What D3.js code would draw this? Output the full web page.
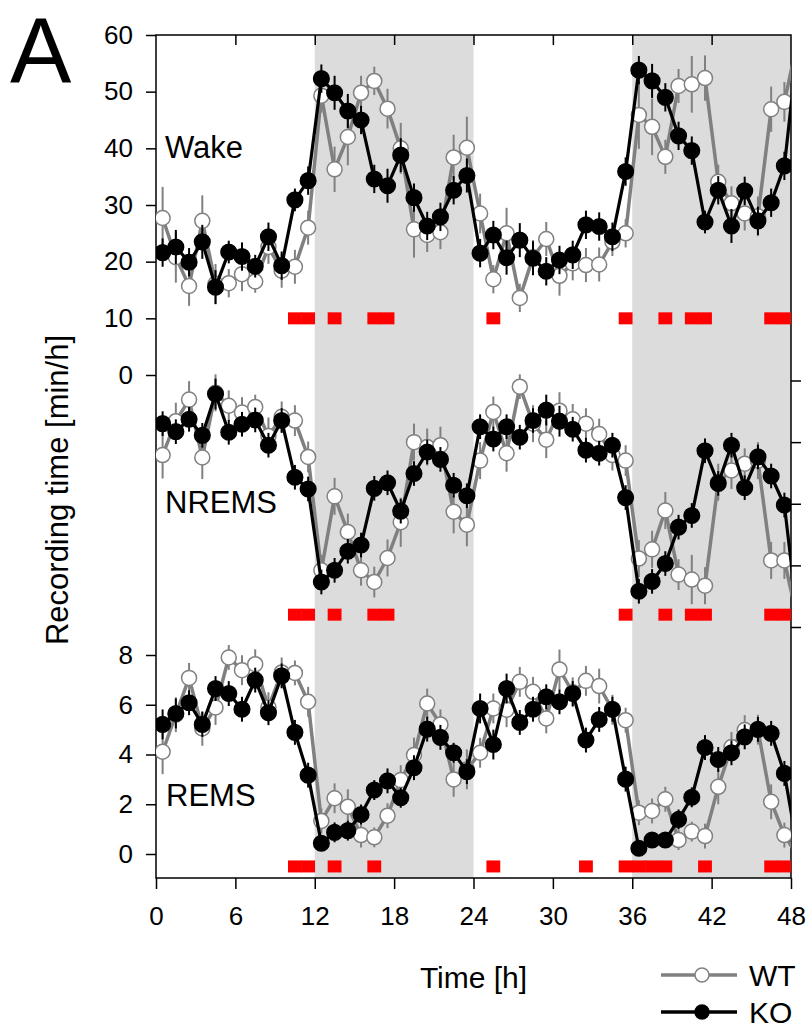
<!DOCTYPE html>
<html><head><meta charset="utf-8">
<script src="https://cdn.jsdelivr.net/npm/d3@7"></script>
<style>body{margin:0;background:#fff} svg text{font-family:"Liberation Sans",Arial,sans-serif;fill:#000}</style>
</head><body>
<svg id="c" width="812" height="1031"></svg>
<script>
// ---------- DATA (hourly bins, centre at h+0.5; 49th value = line continuation past 48 h) ----------
const wakeWT = [27.7,20.8,15.7,27.2,16.1,16.2,17.8,16.5,22.6,18.4,19.1,26.0,49.3,36.3,42.0,49.8,51.9,47.0,40.0,25.7,24.7,25.2,38.4,40.1,28.5,16.9,25.0,13.6,20.8,24.0,17.5,19.7,19.4,19.5,23.5,25.0,45.9,43.8,38.5,51.0,51.3,52.4,34.1,30.3,28.5,28.0,46.9,48.2,59];
const wakeKO = [21.6,22.6,19.9,23.5,15.5,21.7,20.9,19.2,24.4,19.3,30.9,34.3,52.3,49.8,46.6,45.0,34.6,33.4,38.8,31.3,26.3,27.9,32.6,35.2,21.5,24.7,20.7,23.8,20.6,18.3,20.3,21.2,26.5,26.2,24.4,35.9,53.8,51.9,49.0,42.2,39.6,27.0,32.6,26.3,32.5,27.2,30.4,36.9,58];
const wakeWTErr = [5.5,4.5,3.5,4.5,3.5,2.5,3,2,3,3,3,3,3,4,5,3,2.5,3.5,4.5,5,3,3,4,5.5,3.5,2.5,4.5,2.5,3,3,3.5,3,3,3,2.5,2.5,6,5,3,3,5,4,3,3,3,3.5,4,3.5];
const wakeKOErr = [2.5,3,2.5,3,3,2,2.5,2,2.5,2.5,2,2.5,2.5,3,3,2.5,2.5,3,3,2.5,2.5,2.5,2.5,3,2.5,2.5,3,3,3,2.5,2.5,2.5,2.5,2.5,2.5,2.5,2.5,3,2.5,2.5,2.5,2,2.5,3,2.5,2.5,2.5,2.5];

const nremsWT = [27.9,33.4,36.9,27.5,38.0,35.9,34.8,35.7,31.0,34.1,33.5,27.6,9.2,21.2,15.4,9.2,7.3,11.2,17.0,30.0,29.2,29.5,18.7,16.6,27.0,34.9,28.2,39.0,33.0,30.4,35.1,33.7,33.0,31.3,27.9,27.0,11.1,12.6,18.9,8.5,7.7,6.7,23.5,25.4,26.5,27.0,10.8,10.8,1.0];
const nremsKO = [33.0,31.7,33.7,31.1,37.8,31.6,32.9,33.6,29.5,33.5,24.3,22.4,7.3,9.2,12.3,13.3,22.5,23.4,18.8,24.9,28.4,27.2,23.0,21.3,32.5,30.5,32.5,30.8,33.5,35.2,33.4,32.1,28.7,28.2,29.5,21.0,5.8,7.4,10.3,16.2,18.1,28.6,23.3,29.5,22.6,27.6,24.5,19.8,1.5];
const nremsWTErr = [3.8,3,3,3.5,3,2.5,2.5,2,3,2.5,2.5,2.5,2.5,3,3,2.5,2.5,3,4,3,3,3,3.5,3.5,3,2.5,3,2,3,3,3,2.5,2.5,2.5,2.5,2.5,3,3,3,2.5,4,3,3,3,2.5,3,3,3];
const nremsKOErr = [2,2,2,2,2.5,2,2,2,2,2,2,2,2,2,2,2,2,2,2,2,2,2,2,2,2,2,2,2,2,2.5,2.5,2,2,2,2,2,2,2,2,2,2,2,2,2,2,2,2,2];

const remsWT = [4.11,5.6,7.08,5.05,5.89,7.90,7.39,7.63,5.9,7.3,7.28,6.12,1.33,2.24,1.90,0.76,0.67,1.54,2.97,3.98,6.05,5.21,3.0,3.4,4.07,5.85,5.8,6.92,6.52,5.45,7.42,6.5,6.96,6.75,5.8,5.38,1.66,1.73,2.20,0.56,0.90,0.72,2.70,4.3,4.98,5.0,2.10,0.76,-0.1];
const remsKO = [5.21,5.65,6.08,5.21,6.65,6.45,5.82,6.99,5.68,7.16,4.89,3.17,0.43,0.87,0.94,1.59,2.57,2.94,2.26,3.47,5.02,4.69,4.07,3.31,5.85,4.40,6.65,5.29,5.82,6.32,6.12,6.45,4.58,5.41,5.82,3.01,0.23,0.56,0.56,1.39,2.28,4.28,3.80,4.07,4.71,5.01,4.85,3.24,0.2];
const remsWTErr = [0.9,0.7,0.6,0.7,0.7,0.5,0.6,0.6,0.6,0.6,0.5,0.6,0.5,0.6,0.7,0.5,0.4,0.5,0.6,0.7,0.6,0.6,0.7,0.8,0.6,0.6,0.7,0.6,0.6,0.6,0.8,0.6,0.6,0.7,0.6,0.5,0.5,0.5,0.5,0.4,0.4,0.5,0.7,0.6,0.6,0.6,0.7,0.5];
const remsKOErr = [0.6,0.6,0.5,0.5,0.5,0.5,0.5,0.5,0.5,0.5,0.5,0.5,0.3,0.4,0.4,0.4,0.4,0.5,0.4,0.5,0.5,0.5,0.4,0.5,0.6,0.6,0.6,0.5,0.5,0.5,0.5,0.5,0.5,0.5,0.5,0.5,0.3,0.3,0.3,0.4,0.4,0.5,0.5,0.5,0.5,0.5,0.5,0.5];

// significant hour bins (red squares)
const sigWake  = [10,11,13,16,17,25,35,38,40,41,46,47];
const sigNREMS = [10,11,13,16,17,35,38,40,41,46,47];
const sigREMS  = [10,11,13,16,25,32,35,36,37,38,41,46,47];

const darkPhases = [[12,24],[36,48]];
const timeTicks = [0,6,12,18,24,30,36,42,48];
const wakeTicks = [0,10,20,30,40,50,60];
const nremsTicks = [0,10,20,30,40];
const remsTicks = [0,2,4,6,8];
const panelNames = ["Wake","NREMS","REMS"];
const seriesNames = ["WT","KO"];
const yTitle = "Recording time [min/h]";
const xTitle = "Time [h]";

// ---------- LAYOUT ----------
const svg = d3.select("#c");
const L = 156, R = 791, T = 35, B = 878;
const x = d3.scaleLinear().domain([0,48]).range([L,R]);
const yW = d3.scaleLinear().domain([0,60]).range([375,35]);
const yN = d3.scaleLinear().domain([0,40]).range([627,380.5]);
const yR = d3.scaleLinear().domain([0,8]).range([854,655]);
const hourIdx = d3.range(49);
const GRAY = "#808080";
const binW = x(1) - x(0);

svg.append("defs").append("clipPath").attr("id","plotclip")
  .append("rect").attr("x",L).attr("y",0).attr("width",R-L).attr("height",B);

// dark phase shading
svg.selectAll("rect.dark").data(darkPhases).join("rect").attr("class","dark")
  .attr("x",d=>x(d[0])).attr("width",d=>x(d[1])-x(d[0]))
  .attr("y",T).attr("height",B-T).attr("fill","#dcdcdc");

// axes
function styleAxis(g){
  g.select(".domain").remove();
  g.selectAll("line").attr("stroke","#000").attr("stroke-width",1.5);
  g.selectAll("text").attr("font-size",26).attr("fill","#000")
   .attr("font-family","'Liberation Sans', Arial, sans-serif");
}
svg.append("g").attr("transform",`translate(${L},0)`)
  .call(d3.axisLeft(yW).tickValues(wakeTicks).tickSize(10).tickPadding(13)).call(styleAxis);
svg.append("g").attr("transform",`translate(${L},0)`)
  .call(d3.axisLeft(yR).tickValues(remsTicks).tickSize(10).tickPadding(13)).call(styleAxis);
svg.append("g").attr("transform",`translate(${R},0)`)
  .call(d3.axisRight(yN).tickValues(nremsTicks).tickSize(10).tickFormat("")).call(styleAxis);
svg.append("g").attr("transform",`translate(0,${B})`)
  .call(d3.axisBottom(x).tickValues(timeTicks).tickSize(11).tickPadding(18)).call(styleAxis);
svg.append("g").attr("transform",`translate(0,${T})`)
  .call(d3.axisTop(x).tickValues(timeTicks.slice(1,-1)).tickSizeInner(-10).tickSizeOuter(0).tickFormat("")).call(styleAxis);

// frame
svg.append("rect").attr("x",L).attr("y",T).attr("width",R-L).attr("height",B-T)
  .attr("fill","none").attr("stroke","#000").attr("stroke-width",1.5);

// panels
const panels = [
  {name:panelNames[0], y:yW, wt:wakeWT, ko:wakeKO, wtE:wakeWTErr, koE:wakeKOErr, sig:sigWake, sigLevel:10, lx:165, ly:158},
  {name:panelNames[1], y:yN, wt:nremsWT, ko:nremsKO, wtE:nremsWTErr, koE:nremsKOErr, sig:sigNREMS, sigLevel:2, lx:165, ly:513},
  {name:panelNames[2], y:yR, wt:remsWT, ko:remsKO, wtE:remsWTErr, koE:remsKOErr, sig:sigREMS, sigLevel:-0.5, lx:166, ly:806}
];

const plot = svg.append("g").attr("clip-path","url(#plotclip)");

panels.forEach(p => {
  // significance squares
  plot.append("g").selectAll("rect").data(p.sig).join("rect")
    .attr("x",d=>x(d+0.5)-binW/2-0.3).attr("width",binW+0.6)
    .attr("y",p.y(p.sigLevel)-6).attr("height",12).attr("fill","#ff0000");
});

panels.forEach(p => {
  const mk = (vals, errs, color, lw, fill, r) => {
    const g = plot.append("g");
    const idx = d3.range(errs.length);
    g.selectAll("line").data(idx).join("line")
      .attr("x1",i=>x(i+0.5)).attr("x2",i=>x(i+0.5))
      .attr("y1",i=>p.y(vals[i]-errs[i])).attr("y2",i=>p.y(vals[i]+errs[i]))
      .attr("stroke",color).attr("stroke-width",2);
    g.append("path").datum(hourIdx)
      .attr("d",d3.line().x(i=>x(i+0.5)).y(i=>p.y(vals[i])))
      .attr("fill","none").attr("stroke",color).attr("stroke-width",lw).attr("stroke-linejoin","round");
    g.selectAll("circle").data(idx).join("circle")
      .attr("cx",i=>x(i+0.5)).attr("cy",i=>p.y(vals[i])).attr("r",r)
      .attr("fill",fill).attr("stroke",color).attr("stroke-width",1.5);
  };
  mk(p.wt, p.wtE, GRAY, 3.5, "#fff", 7.5);
  mk(p.ko, p.koE, "#000", 3.2, "#000", 7.8);
  svg.append("text").attr("x",p.lx).attr("y",p.ly).attr("font-size",31).text(p.name);
});

// big panel letter
svg.append("text").attr("x",10).attr("y",83).attr("font-size",92).text("A");

// axis titles
svg.append("text").attr("transform","translate(68,490) rotate(-90)")
  .attr("text-anchor","middle").attr("font-size",31).text(yTitle);
svg.append("text").attr("x",(L+R)/2).attr("y",988).attr("text-anchor","middle")
  .attr("font-size",30).text(xTitle);

// legend
const leg = [
  {name:seriesNames[0], color:GRAY, fill:"#fff", lw:3.5, y:975},
  {name:seriesNames[1], color:"#000", fill:"#000", lw:3.5, y:1012}
];
leg.forEach(d => {
  svg.append("line").attr("x1",661).attr("x2",737).attr("y1",d.y).attr("y2",d.y)
    .attr("stroke",d.color).attr("stroke-width",d.lw);
  svg.append("circle").attr("cx",702).attr("cy",d.y).attr("r",7)
    .attr("fill",d.fill).attr("stroke",d.color).attr("stroke-width",1.5);
  svg.append("text").attr("x",749).attr("y",d.y+11).attr("font-size",30).text(d.name);
});
</script>
</body></html>
